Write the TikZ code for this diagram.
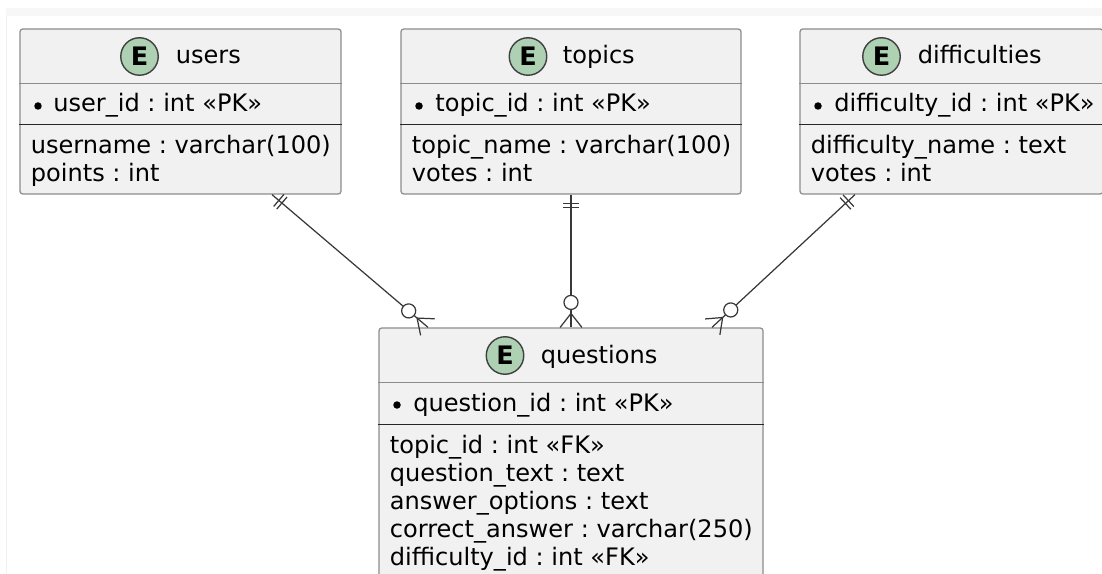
\documentclass[tikz,border=0pt]{standalone}
\usepackage{fontspec}
\setmainfont{DejaVu Sans}
\frenchspacing
\usetikzlibrary{fit, decorations.markings}
\definecolor{entfill}{HTML}{F1F1F1}
\definecolor{entline}{HTML}{8C8C8C}
\definecolor{badgegreen}{HTML}{ADD1B2}
\definecolor{relline}{HTML}{383838}

\begin{document}
\begin{tikzpicture}[
        x=0.02cm, y=-0.02cm,
        font=\fontsize{13.7}{16}\selectfont,
        entity/.style={draw=entline, fill=entfill, line width=0.7pt, rounded corners=1.6pt, inner sep=0pt},
        badge/.style={circle, draw=black!75, fill=badgegreen, line width=0.8pt, minimum size=0.75cm, inner sep=0pt, font=\fontsize{14.5}{15}\selectfont\bfseries},
        ename/.style={anchor=base west, inner sep=0pt},
        field/.style={anchor=base west, inner sep=0pt},
        pkdot/.style={circle, fill=black, minimum size=0.15cm, inner sep=0pt},
        titlesep/.style={draw=entline, line width=0.6pt},
        keysep/.style={draw=black!85, line width=0.9pt},
        rel/.style={draw=relline, line width=0.7pt, postaction={decorate}, decoration={markings,
            % exactly one: two bars at the start
            mark=at position 0 with {\draw[relline, line width=0.7pt] (5.1pt,-4.5pt) -- (5.1pt,4.5pt) (7.4pt,-4.5pt) -- (7.4pt,4.5pt);},
            % zero or many: ring and crow's foot at the end
            mark=at position 1 with {\draw[relline, line width=0.7pt] (-7.9pt,0) -- (0,-6.2pt) (-7.9pt,0) -- (0,6.2pt);
                \draw[relline, line width=0.7pt, fill=white] (-14.2pt,0) circle (4pt);}}},
    ]
        \useasboundingbox (0,0) rectangle (1102,574);
        \clip (0,0) rectangle (1102,574);
        \fill[white] (0,0) rectangle (1102,574);
        \fill[black!3] (6,8) rectangle (1102,16);
        \draw[black!6] (6.5,16) -- (6.5,574);

        % Top row: the three lookup tables
        \node[entity, fit={(20,29) (341,194)}] (users) {};
        \node[entity, fit={(401,29) (741,194)}] (topics) {};
        \node[entity, fit={(800,29) (1103,194)}] (difficulties) {};

        % Bottom: questions table, runs off the page
        \node[entity, fit={(379,328) (763,590)}] (questions) {};

        % Compartment lines
        \draw[titlesep] ([yshift=-1.1cm]users.north west) -- ([yshift=-1.1cm]users.north east);
        \draw[keysep] ([yshift=-1.92cm]users.north west) -- ([yshift=-1.92cm]users.north east);
        \draw[titlesep] ([yshift=-1.1cm]topics.north west) -- ([yshift=-1.1cm]topics.north east);
        \draw[keysep] ([yshift=-1.92cm]topics.north west) -- ([yshift=-1.92cm]topics.north east);
        \draw[titlesep] ([yshift=-1.1cm]difficulties.north west) -- ([yshift=-1.1cm]difficulties.north east);
        \draw[keysep] ([yshift=-1.92cm]difficulties.north west) -- ([yshift=-1.92cm]difficulties.north east);
        \draw[titlesep] ([yshift=-1.1cm]questions.north west) -- ([yshift=-1.1cm]questions.north east);
        \draw[keysep] ([yshift=-1.94cm]questions.north west) -- ([yshift=-1.94cm]questions.north east);

        % users
        \node[badge] (usersE) at (139.5,56.5) {E};
        \node[ename] (usersT) at (175.5,64) {users};
        \node[pkdot] (usersK) at (38,106) {};
        \node[field] (usersPK) at (53,112) {user\_id : int «PK»};
        \node[field] (usersA) at (30.5,154) {username : varchar(100)};
        \node[field] (usersB) at (30.5,182) {points : int};

        % topics
        \node[badge] (topicsE) at (528,56.5) {E};
        \node[ename] (topicsT) at (562.5,64) {topics};
        \node[pkdot] (topicsK) at (419,106) {};
        \node[field] (topicsPK) at (435,112) {topic\_id : int «PK»};
        \node[field] (topicsA) at (411.5,154) {topic\_name : varchar(100)};
        \node[field] (topicsB) at (411.5,182) {votes : int};

        % difficulties
        \node[badge] (diffE) at (881.5,56.5) {E};
        \node[ename] (diffT) at (917.5,64) {difficulties};
        \node[pkdot] (diffK) at (818,106) {};
        \node[field] (diffPK) at (834,112) {difficulty\_id : int «PK»};
        \node[field] (diffA) at (810.5,154) {difficulty\_name : text};
        \node[field] (diffB) at (810.5,182) {votes : int};

        % questions
        \node[badge] (questE) at (505,355.5) {E};
        \node[ename] (questT) at (540.5,363) {questions};
        \node[pkdot] (questK) at (397,405) {};
        \node[field] (questPK) at (413,411) {question\_id : int «PK»};
        \node[field] (questA) at (389.5,453) {topic\_id : int «FK»};
        \node[field] (questB) at (389.5,481) {question\_text : text};
        \node[field] (questC) at (389.5,509) {answer\_options : text};
        \node[field] (questD) at (389.5,537) {correct\_answer : varchar(250)};
        \node[field] (questF) at (389.5,565) {difficulty\_id : int «FK»};

        % Relations: one lookup row to many questions
        \draw[rel] ([xshift=1.83cm]users.south) -- ([xshift=-2.86cm]questions.north);
        \draw[rel] (topics.south) -- (questions.north);
        \draw[rel] ([xshift=-1.93cm]difficulties.south) -- ([xshift=2.82cm]questions.north);
    \end{tikzpicture}
\end{document}
